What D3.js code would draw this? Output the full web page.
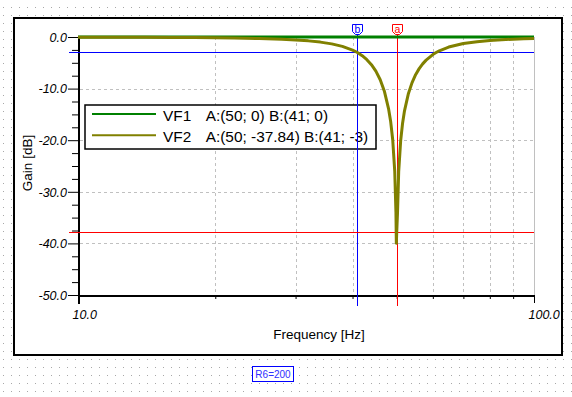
<!DOCTYPE html>
<html><head><meta charset="utf-8">
<script src="https://cdn.jsdelivr.net/npm/d3@7"></script>
<style>
html,body{margin:0;padding:0;background:#fff;}
svg{display:block;font-family:"Liberation Sans",Arial,sans-serif;}
</style></head>
<body>
<svg id="chart" width="572" height="397"></svg>
<script>
// ---------------- data ----------------
const freq = [10, 12, 14, 16, 18, 20, 22, 25, 28, 30, 32, 34, 36, 38, 40, 41, 42, 43, 44, 45, 46, 47, 48, 48.5, 49, 49.5, 49.8, 49.9, 50, 50.2, 50.5, 51, 51.5, 52, 53, 54, 55, 56, 57, 58, 60, 61, 62, 65, 70, 75, 80, 85, 90, 95, 100];
const vf1Gain = freq.map(() => 0);
const vf2Gain = [-0.03, -0.05, -0.06, -0.09, -0.12, -0.16, -0.2, -0.3, -0.44, -0.57, -0.75, -0.99, -1.33, -1.81, -2.53, -3.0, -3.62, -4.39, -5.36, -6.62, -8.29, -10.58, -13.98, -16.44, -19.96, -25.99, -33.96, -39.99, -37.84, -34.0, -26.07, -20.13, -16.7, -14.31, -11.06, -8.89, -7.31, -6.13, -5.21, -4.48, -3.4, -3.01, -2.68, -1.95, -1.27, -0.9, -0.68, -0.53, -0.43, -0.35, -0.3];
const seriesNames = ["VF1", "VF2"];
const legendTexts = ["A:(50; 0) B:(41; 0)", "A:(50; -37.84) B:(41; -3)"];
const yMajorTicks = [0, -10, -20, -30, -40, -50];
const yMinorTicks = [-2.5, -5, -7.5, -12.5, -15, -17.5, -22.5, -25, -27.5, -32.5, -35, -37.5, -42.5, -45, -47.5];
const yGridTicks = [-10, -20, -30, -40];
const xMinorTicks = [20, 30, 40, 50, 60, 70, 80, 90];
const xEndTicks = [10, 100];
const cursorA = {label: "a", f: 50, gain: -37.84};
const cursorB = {label: "b", f: 41, gain: -3};
const noteText = "R6=200";

// ---------------- setup ----------------
const svg = d3.select("#chart");
const W = 572, H = 397;
const x = d3.scaleLog().domain([10, 100]).range([78, 534]);
const y = d3.scaleLinear().domain([-50, 0]).range([295, 37]);
const FONT = '"Liberation Sans",Arial,sans-serif';

// dotted background
const defs = svg.append("defs");
const pat = defs.append("pattern").attr("id", "dots").attr("patternUnits", "userSpaceOnUse")
  .attr("x", 3).attr("y", 7).attr("width", 8).attr("height", 8);
pat.append("rect").attr("x", 0).attr("y", 0).attr("width", 1).attr("height", 1).attr("fill", "#a8a8a8");
svg.append("rect").attr("width", W).attr("height", H).attr("fill", "#fff");
svg.append("rect").attr("width", W).attr("height", H).attr("fill", "url(#dots)");

// frame
svg.append("rect").attr("x", 14).attr("y", 18).attr("width", 548).attr("height", 337)
  .attr("fill", "#fff").attr("stroke", "#000").attr("stroke-width", 2);

// grid
const grid = svg.append("g");
grid.selectAll("line.h").data(yGridTicks).join("line")
  .attr("x1", 80).attr("x2", 534).attr("y1", d => Math.round(y(d)) + 0.5).attr("y2", d => Math.round(y(d)) + 0.5)
  .attr("stroke", "#c0c0c0").attr("stroke-dasharray", "3,3");
grid.selectAll("line.v").data(xMinorTicks).join("line")
  .attr("y1", 37).attr("y2", 294).attr("x1", d => Math.round(x(d)) + 0.5).attr("x2", d => Math.round(x(d)) + 0.5)
  .attr("stroke", "#c0c0c0").attr("stroke-dasharray", "3,3");
grid.append("line").attr("x1", Math.round(x(100)) + 0.5).attr("x2", Math.round(x(100)) + 0.5)
  .attr("y1", 37).attr("y2", 295).attr("stroke", "#c0c0c0");

// y axis
const yAxisG = svg.append("g").attr("transform", "translate(78,0)");
yAxisG.call(d3.axisLeft(y).tickValues(yMinorTicks).tickSize(6).tickSizeOuter(0).tickFormat(""));
yAxisG.select(".domain").remove();
const yAxisMaj = svg.append("g").attr("transform", "translate(78,0)")
  .call(d3.axisLeft(y).tickValues(yMajorTicks).tickSize(10).tickPadding(1).tickSizeOuter(0).tickFormat(d => d.toFixed(1)));
yAxisMaj.select(".domain").remove();
yAxisMaj.selectAll("text").attr("font-family", FONT).attr("font-size", "12.5px").attr("font-style", "italic")
  .attr("fill", "#000").attr("dy", "0.34em");
svg.selectAll(".tick line").attr("stroke", "#000");

// x axis
const xAxisG = svg.append("g").attr("transform", "translate(0,295)")
  .call(d3.axisBottom(x).tickValues(xMinorTicks).tickSize(4).tickSizeOuter(0).tickFormat(""));
xAxisG.select(".domain").remove();
const xAxisEnd = svg.append("g").attr("transform", "translate(0,295)")
  .call(d3.axisBottom(x).tickValues(xEndTicks).tickSize(8).tickSizeOuter(0).tickFormat(d => d.toFixed(1)));
xAxisEnd.select(".domain").remove();
xAxisEnd.selectAll("text").attr("font-family", FONT).attr("font-size", "12.5px").attr("font-style", "italic")
  .attr("fill", "#000").attr("text-anchor", "start").attr("x", -6).attr("y", 24).attr("dy", 0);
svg.selectAll(".tick line").attr("stroke", "#000");

// axis lines
svg.append("line").attr("x1", 79).attr("x2", 79).attr("y1", 37).attr("y2", 304).attr("stroke", "#000").attr("stroke-width", 2);
svg.append("line").attr("x1", 78).attr("x2", 535).attr("y1", 296).attr("y2", 296).attr("stroke", "#000").attr("stroke-width", 2);

// axis titles
svg.append("text").attr("x", 319).attr("y", 339).attr("text-anchor", "middle")
  .attr("font-family", FONT).attr("font-size", "13.5px").attr("fill", "#000").text("Frequency [Hz]");
svg.append("text").attr("transform", "translate(31.5,163) rotate(-90)").attr("text-anchor", "middle")
  .attr("font-family", FONT).attr("font-size", "13.5px").attr("fill", "#000").text("Gain [dB]");

// legend
const colors = ["#008000", "#808000"];
const lg = svg.append("g");
lg.append("rect").attr("x", 85).attr("y", 105).attr("width", 291).attr("height", 44)
  .attr("fill", "#fff").attr("stroke", "#000").attr("stroke-width", 1.5);
seriesNames.forEach((name, i) => {
  const ly = 114 + i * 21.3;
  lg.append("line").attr("x1", 92).attr("x2", 156).attr("y1", ly).attr("y2", ly)
    .attr("stroke", colors[i]).attr("stroke-width", 2);
  lg.append("text").attr("x", 163).attr("y", 120.7 + i * 21).attr("font-family", FONT)
    .attr("font-size", "15.4px").attr("fill", "#000").text(name);
  lg.append("text").attr("x", 205.7).attr("y", 120.7 + i * 21).attr("font-family", FONT)
    .attr("font-size", "15.4px").attr("fill", "#000").text(legendTexts[i]);
});

// cursor lines
const cursors = [{c: cursorB, col: "#0000ff"}, {c: cursorA, col: "#ff0000"}];
cursors.forEach(({c, col}) => {
  const cy = Math.round(y(c.gain)) + 0.5;
  svg.append("line").attr("x1", 69).attr("x2", 534).attr("y1", cy).attr("y2", cy).attr("stroke", col);
  const cx = Math.round(x(c.f)) + 0.5;
  svg.append("line").attr("x1", cx).attr("x2", cx).attr("y1", 34).attr("y2", 306).attr("stroke", col);
});

// curves
const line = d3.line().x(d => x(d[0])).y(d => y(d[1]));
svg.append("path").datum(freq.map((f, i) => [f, vf1Gain[i]])).attr("d", line)
  .attr("fill", "none").attr("stroke", colors[0]).attr("stroke-width", 3);
svg.append("path").datum(freq.map((f, i) => [f, vf2Gain[i]])).attr("d", line)
  .attr("fill", "none").attr("stroke", colors[1]).attr("stroke-width", 3).attr("stroke-linejoin", "round");

// cursor markers
cursors.forEach(({c, col}) => {
  const cx = Math.round(x(c.f)) + 0.5;
  svg.append("path").attr("d", `M${cx - 5},24.5 h10 v7 l-3,3 h-4 l-3,-3 z`)
    .attr("fill", "#fff").attr("stroke", col).attr("stroke-width", 1);
  svg.append("text").attr("x", cx).attr("y", 32.5).attr("text-anchor", "middle")
    .attr("font-family", FONT).attr("font-size", "10.5px").attr("fill", col).text(c.label);
});

// note box
svg.append("rect").attr("x", 252.5).attr("y", 366.5).attr("width", 41).attr("height", 15)
  .attr("fill", "#fff").attr("stroke", "#0000ff").attr("stroke-width", 1);
svg.append("text").attr("x", 273).attr("y", 377.5).attr("text-anchor", "middle")
  .attr("font-family", FONT).attr("font-size", "10px").attr("fill", "#3030ff").text(noteText);
</script>
</body></html>
